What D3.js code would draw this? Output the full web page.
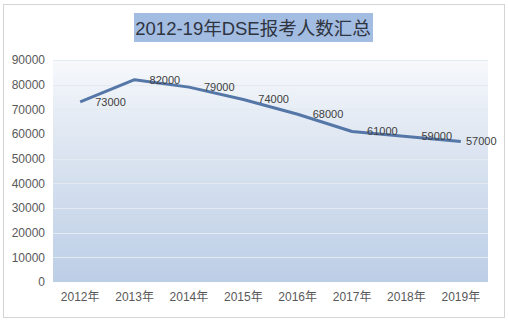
<!DOCTYPE html>
<html>
<head>
<meta charset="utf-8">
<script src="https://cdn.jsdelivr.net/npm/d3@7"></script>
<style>
  html, body { margin: 0; padding: 0; background: #fff; }
  svg { display: block; }
</style>
</head>
<body>
<svg id="chart" width="508" height="322"></svg>
<script>
// Daten
const years = ["2012年", "2013年", "2014年", "2015年", "2016年", "2017年", "2018年", "2019年"];
const counts = [73000, 82000, 79000, 74000, 68000, 61000, 59000, 57000];
const yTicks = [0, 10000, 20000, 30000, 40000, 50000, 60000, 70000, 80000, 90000];
const chartTitle = "2012-19年DSE报考人数汇总";

const font = "'Liberation Sans', 'Noto Sans CJK SC', sans-serif";
const svg = d3.select("#chart");

// Rahmen
svg.append("rect")
  .attr("x", 3.5).attr("y", 4.5)
  .attr("width", 501).attr("height", 313)
  .attr("fill", "#fff")
  .attr("stroke", "#d4d4d4");

// Titel mit Hinterlegung
svg.append("rect")
  .attr("x", 134).attr("y", 13)
  .attr("width", 239).attr("height", 29)
  .attr("fill", "#a3bce2");

svg.append("text")
  .attr("x", 253)
  .attr("y", 34.5)
  .attr("text-anchor", "middle")
  .attr("font-family", font)
  .attr("font-size", "18.5px")
  .attr("fill", "#2e3440")
  .text(chartTitle);

// Layout Plotbereich
const margin = { top: 60, left: 53 };
const plotW = 488 - margin.left;
const plotH = 282 - margin.top;

const g = svg.append("g")
  .attr("transform", `translate(${margin.left},${margin.top})`);

const x = d3.scaleBand().domain(years).range([0, plotW]);
const y = d3.scaleLinear().domain([0, 90000]).range([plotH, 0]);

// Verlauf im Hintergrund
const defs = svg.append("defs");
const grad = defs.append("linearGradient")
  .attr("id", "bg").attr("x1", 0).attr("y1", 0).attr("x2", 0).attr("y2", 1);
grad.append("stop").attr("offset", "0%").attr("stop-color", "#f7f9fc");
grad.append("stop").attr("offset", "35%").attr("stop-color", "#dfe7f2");
grad.append("stop").attr("offset", "100%").attr("stop-color", "#bccee6");

g.append("rect")
  .attr("width", plotW).attr("height", plotH)
  .attr("fill", "url(#bg)");

// Gitterlinien
g.append("g")
  .selectAll("line")
  .data(yTicks.filter(d => d > 0))
  .enter().append("line")
    .attr("x1", 0).attr("x2", plotW)
    .attr("y1", d => Math.round(y(d)) + 0.5)
    .attr("y2", d => Math.round(y(d)) + 0.5)
    .attr("stroke", "#e4eaf2")
    .attr("stroke-width", 1.2);

// y-Achse (nur Beschriftung)
const yAxis = g.append("g")
  .call(d3.axisLeft(y).tickValues(yTicks).tickFormat(d3.format("d")).tickSize(0).tickPadding(8));
yAxis.select(".domain").remove();
yAxis.selectAll("text")
  .attr("font-family", font)
  .attr("font-size", "12px")
  .attr("fill", "#595959");

// x-Achse
const xAxis = g.append("g")
  .attr("transform", `translate(0,${plotH})`)
  .call(d3.axisBottom(x).tickSize(0).tickPadding(10));
xAxis.select(".domain").remove();
xAxis.selectAll("text")
  .attr("font-family", font)
  .attr("font-size", "12px")
  .attr("fill", "#595959");

// Linie
const cx = (i) => x(years[i]) + x.bandwidth() / 2;
const line = d3.line()
  .x((d, i) => cx(i))
  .y(d => y(d));

g.append("path")
  .datum(counts)
  .attr("d", line)
  .attr("fill", "none")
  .attr("stroke", "#5577a8")
  .attr("stroke-width", 3)
  .attr("stroke-linejoin", "round");

// Wert-Labels rechts vom Punkt (letztes Label an den Rand geschoben)
const labelW = 31;
g.append("g")
  .selectAll("text")
  .data(counts)
  .enter().append("text")
    .attr("x", (d, i) => Math.min(cx(i) + 15, 497 - margin.left - labelW))
    .attr("y", d => y(d))
    .attr("dy", "0.35em")
    .attr("font-family", font)
    .attr("font-size", "11px")
    .attr("fill", "#404040")
    .text(d => d);
</script>
</body>
</html>
